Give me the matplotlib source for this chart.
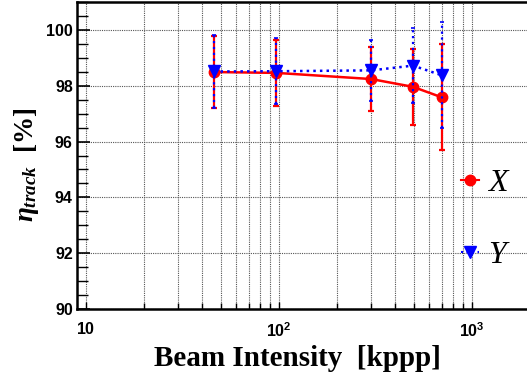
import matplotlib
matplotlib.use("Agg")
import matplotlib.pyplot as plt
from matplotlib.lines import Line2D
from matplotlib.ticker import FixedLocator, FixedFormatter, NullFormatter, MultipleLocator
import numpy as np

plt.rcParams['mathtext.fontset'] = 'custom'
plt.rcParams['mathtext.rm'] = 'Liberation Serif:bold'
plt.rcParams['mathtext.it'] = 'Liberation Serif:bold:italic'
plt.rcParams['mathtext.bf'] = 'Liberation Serif:bold'
plt.rcParams['mathtext.sf'] = 'Liberation Sans:bold'

# Data
intensity = [46, 97, 300, 495, 700]
eff_x = [98.49, 98.46, 98.24, 97.96, 97.58]
err_x = [1.30, 1.18, 1.15, 1.35, 1.90]
eff_y = [98.51, 98.52, 98.55, 98.72, 98.37]
err_y = [1.30, 1.18, 1.10, 1.35, 1.90]
series_labels = ['X', 'Y']
xticks_major = [10, 100, 1000]
xtick_labels = [r'$\mathsf{10}$', r'$\mathsf{10^{2}}$', r'$\mathsf{10^{3}}$']
yticks_major = [90, 92, 94, 96, 98, 100]

W, H = 527, 381
fig = plt.figure(figsize=(W / 100, H / 100), dpi=100)
ax = fig.add_axes([77 / W, (H - 309) / H, (W - 77) / W, (309 - 2) / H])

dec = 193.0
ax.set_xscale('log')
ax.set_xlim(10 ** (1 - 9 / dec), 10 ** (3 + 55 / dec))
ax.set_ylim(90, 101)

red = '#ff0000'
blue = '#0000ff'

ax.errorbar(intensity, eff_x, yerr=err_x, color=red, lw=1.8, marker='o', ms=7.5,
            capsize=2, elinewidth=1.6, capthick=1.6, zorder=3)
eb = ax.errorbar(intensity, eff_y, yerr=err_y, color=blue, lw=1.8, ls=':', marker='v',
                 ms=8.5, capsize=1.5, elinewidth=1.6, capthick=1.2, zorder=4)
for lc in eb[2]:
    lc.set_linestyle(':')

# grid
minor = [v * m for v in (10, 100) for m in range(2, 10)]
ax.xaxis.set_major_locator(FixedLocator(xticks_major))
ax.xaxis.set_major_formatter(FixedFormatter(xtick_labels))
ax.xaxis.set_minor_locator(FixedLocator(minor))
ax.xaxis.set_minor_formatter(NullFormatter())
ax.yaxis.set_major_locator(FixedLocator(yticks_major))
ax.yaxis.set_minor_locator(MultipleLocator(0.5))
ax.grid(True, which='major', axis='both', color='#555555', ls=(0, (1, 1)), lw=0.8)
ax.grid(True, which='minor', axis='x', color='#555555', ls=(0, (1, 1)), lw=0.8)
ax.set_axisbelow(True)

ax.tick_params(axis='both', which='both', direction='in', top=False, right=False)
ax.tick_params(axis='y', which='major', length=9, width=1.2, pad=3)
ax.tick_params(axis='y', which='minor', length=8, width=1.0)
ax.tick_params(axis='x', which='major', length=5, width=1.0, pad=9)
ax.tick_params(axis='x', which='minor', length=4, width=1.0)

for lbl in ax.get_yticklabels():
    lbl.set_fontfamily('Liberation Sans')
    lbl.set_fontweight('bold')
    lbl.set_fontsize(11.5)
for lbl in ax.get_xticklabels():
    lbl.set_fontsize(11.5)

for s in ['left', 'bottom', 'top']:
    ax.spines[s].set_linewidth(1.8)
ax.spines['right'].set_visible(False)

ax.set_xlabel('Beam Intensity  [kppp]', fontfamily='Liberation Serif', fontweight='bold',
              fontsize=21)
ax.xaxis.set_label_coords(0.49, -0.118)
ax.set_ylabel(r'$\eta_{track}$  [%]', fontfamily='Liberation Serif', fontweight='bold',
              fontsize=19.5)
ax.yaxis.set_label_coords(-0.08, 0.47)

handles = [Line2D([], [], color=red, marker='o', ms=7.5, lw=1.5),
           Line2D([], [], color=blue, marker='v', ms=8.5, lw=1.5, ls=':')]
leg = ax.legend(handles, series_labels, loc='upper left', bbox_to_anchor=(0.79, 0.55),
                frameon=False, handlelength=0.55, handletextpad=0.3, labelspacing=1.33,
                prop={'family': 'Liberation Serif', 'style': 'italic', 'size': 23})

fig.savefig('out.png', dpi=100)
